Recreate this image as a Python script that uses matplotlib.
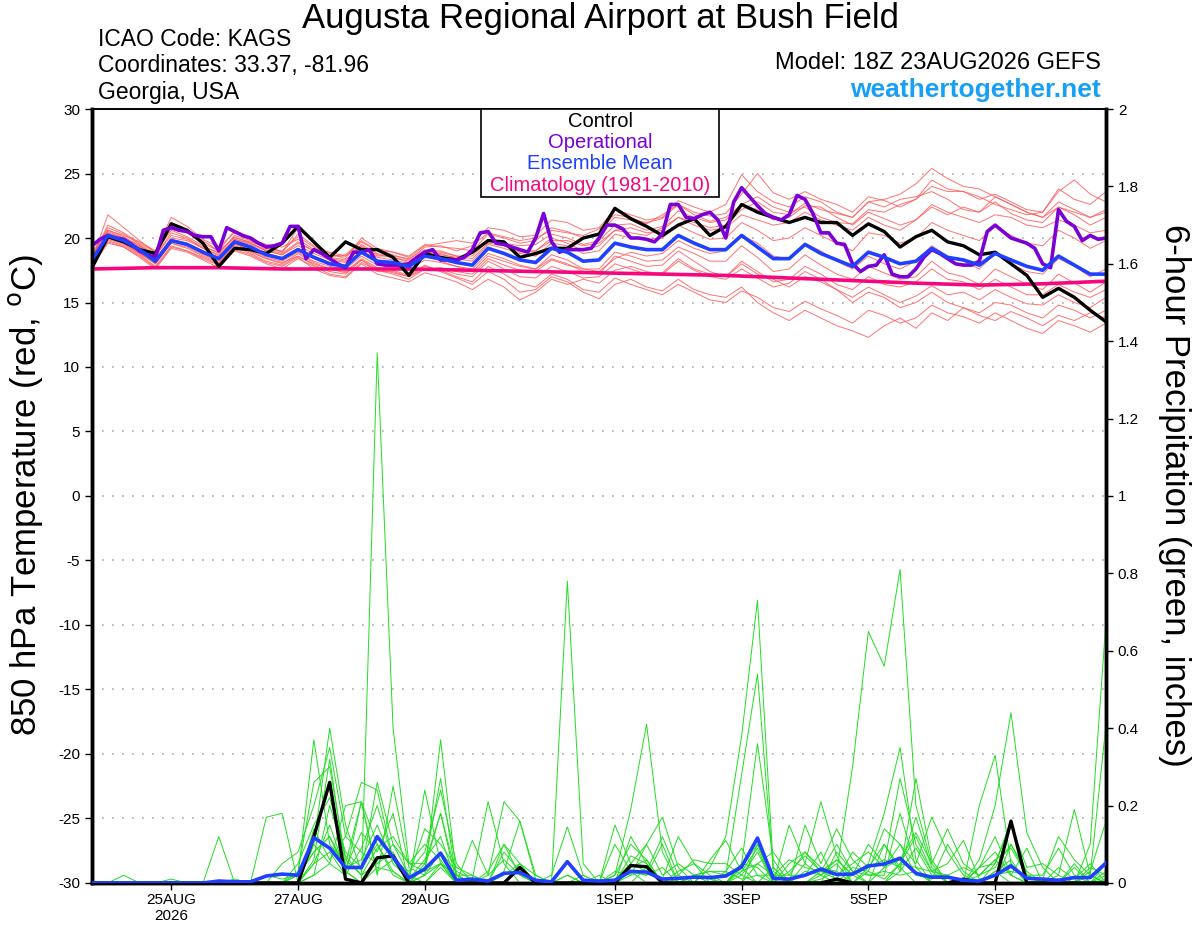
import numpy as np
import matplotlib
matplotlib.use('Agg')
import matplotlib.pyplot as plt
from matplotlib.patches import Rectangle
from matplotlib.ticker import FuncFormatter

plt.rcParams['font.family'] = ['Liberation Sans', 'DejaVu Sans']
plt.rcParams['axes.unicode_minus'] = False

# forecast hours from 18Z 23AUG2026, 6-hourly for GEFS, 3-hourly for the operational run
hours = np.arange(0, 385, 6)
op_hours = np.arange(0, 385, 3)
clim_hours = np.arange(0, 385, 24)

tick_hours = [30, 78, 126, 198, 246, 294, 342]
tick_labels = ['25AUG\n2026', '27AUG', '29AUG', '1SEP', '3SEP', '5SEP', '7SEP']

# 850 hPa temperature (C)
control_temp = [17.7, 20.1, 19.7, 19.1, 18.8, 21.1, 20.6, 19.6, 17.8, 19.2,
                19.1, 18.8, 19.6, 20.9, 19.7, 18.5, 19.7, 19.1, 19.1, 18.5,
                17.1, 18.8, 18.5, 18.3, 18.9, 19.8, 19.7, 18.5, 18.8, 19.2,
                19.2, 20.0, 20.3, 22.3, 21.5, 20.9, 20.2, 21.0, 21.5, 20.2,
                20.9, 22.6, 22.0, 21.6, 21.2, 21.6, 21.2, 21.2, 20.2, 21.1,
                20.5, 19.3, 20.1, 20.6, 19.7, 19.4, 18.7, 18.9, 18.0, 17.1,
                15.4, 16.1, 15.4, 14.4, 13.5]

mean_temp = [18.3, 20.2, 19.8, 19.1, 18.2, 19.8, 19.5, 18.9, 18.4, 19.7,
             19.3, 18.7, 18.4, 19.1, 18.5, 18.0, 17.8, 18.9, 18.2, 18.1,
             17.8, 18.6, 18.4, 18.1, 17.9, 19.2, 18.8, 18.3, 18.1, 19.2,
             18.9, 18.2, 18.3, 19.6, 19.3, 19.1, 19.1, 20.2, 19.6, 19.1,
             19.1, 20.2, 19.3, 18.4, 18.4, 19.5, 18.8, 18.3, 17.8, 18.9,
             18.5, 18.0, 18.2, 19.2, 18.5, 18.3, 17.9, 18.8, 18.3, 17.8,
             17.5, 18.6, 17.9, 17.2, 17.2]

op_temp = [19.4, 19.9, 20.2, 20.0, 19.9, 19.5, 19.0, 18.7, 18.5, 20.6,
           20.8, 20.6, 20.5, 20.2, 20.1, 20.1, 19.0, 20.8, 20.5, 20.2,
           20.0, 19.6, 19.3, 19.4, 19.6, 20.9, 20.9, 18.4, 19.1, 18.8,
           18.4, 18.0, 17.7, 18.9, 18.9, 19.1, 18.0, 17.9, 17.9, 17.9,
           18.0, 18.5, 18.9, 19.1, 18.3, 18.3, 18.3, 18.5, 19.1, 20.4,
           20.5, 19.6, 19.5, 19.3, 19.1, 18.9, 20.0, 21.9, 19.7, 18.9,
           19.1, 19.1, 19.1, 19.2, 20.0, 21.0, 21.0, 20.7, 20.0, 20.0,
           19.9, 19.7, 20.3, 22.6, 22.6, 21.6, 21.5, 21.8, 22.0, 21.4,
           20.0, 22.8, 23.9, 23.2, 22.5, 21.9, 21.6, 21.4, 21.8, 23.3,
           23.0, 21.9, 20.4, 20.4, 19.6, 19.5, 18.0, 17.4, 17.8, 17.9,
           18.7, 17.2, 17.0, 17.0, 17.6, 18.5, 19.1, 18.8, 18.4, 18.0,
           17.9, 17.9, 18.2, 20.5, 21.0, 20.5, 20.0, 19.8, 19.6, 19.2,
           18.0, 17.7, 22.2, 21.3, 20.9, 19.8, 20.2, 19.9, 20.0]

clim_temp = [17.6, 17.7, 17.7, 17.6, 17.6, 17.6, 17.5, 17.4, 17.3,
             17.2, 17.1, 16.9, 16.7, 16.5, 16.35, 16.45, 16.65]

member_temp = [
    [18.5, 21.0, 20.4, 19.6, 18.9, 20.6, 20.1, 19.4, 18.8, 20.2, 19.8, 19.2, 19.0, 20.1, 19.3,
     18.6, 18.7, 19.8, 19.0, 18.9, 18.6, 19.5, 19.3, 19.2, 19.0, 20.3, 20.0, 19.6, 19.8, 20.8,
     20.5, 20.0, 20.4, 21.6, 21.4, 21.2, 21.5, 22.6, 22.0, 21.7, 21.9, 23.4, 25.0, 23.5, 23.0,
     23.6, 23.0, 22.6, 22.0, 23.2, 22.9, 22.4, 23.0, 24.5, 23.8, 23.6, 23.0, 23.4, 22.8, 22.2,
     22.0, 23.8, 23.0, 22.6, 23.6],
    [18.2, 20.6, 20.1, 19.4, 18.6, 20.4, 20.0, 19.2, 18.6, 19.9, 19.6, 19.0, 18.7, 19.6, 19.0,
     18.4, 18.2, 19.5, 18.8, 18.5, 18.2, 19.0, 18.9, 18.6, 18.6, 19.8, 19.4, 19.0, 19.0, 20.0,
     19.6, 19.0, 19.4, 20.6, 20.8, 20.4, 20.6, 21.6, 21.2, 20.8, 21.0, 22.2, 22.8, 22.0, 21.8,
     22.7, 22.2, 21.9, 21.6, 22.8, 23.0, 23.4, 24.2, 25.4, 24.6, 24.0, 23.8, 23.2, 22.6, 22.0,
     21.6, 22.4, 22.0, 21.6, 22.2],
    [18.0, 19.8, 19.4, 18.7, 17.8, 19.4, 19.0, 18.5, 18.0, 19.3, 18.8, 18.2, 17.9, 18.6, 17.9,
     17.4, 17.2, 18.3, 17.6, 17.3, 17.0, 17.8, 17.5, 17.0, 16.6, 17.8, 17.2, 16.5, 16.2, 17.2,
     16.8, 16.0, 15.8, 16.9, 16.4, 16.0, 15.6, 16.4, 15.8, 15.2, 15.0, 15.9, 15.4, 14.6, 14.3,
     15.1, 14.5, 14.0, 13.4, 14.4, 14.0, 13.4, 13.8, 14.8, 14.2, 13.9, 13.4, 14.2, 13.6, 13.0,
     12.6, 13.6, 13.2, 12.7, 13.4],
    [18.1, 20.0, 19.6, 18.8, 18.0, 19.6, 19.2, 18.6, 18.1, 19.4, 18.9, 18.4, 18.0, 18.8, 18.1,
     17.6, 17.4, 18.4, 17.7, 17.5, 17.1, 17.9, 17.4, 16.9, 16.4, 17.4, 16.8, 15.8, 16.0, 17.0,
     16.6, 15.8, 15.3, 16.4, 16.8, 16.2, 15.9, 16.8, 16.0, 15.6, 15.4, 16.2, 15.0, 14.2, 13.6,
     14.4, 13.8, 13.2, 12.8, 12.3, 13.2, 13.8, 13.0, 14.2, 13.6, 14.6, 14.0, 13.6, 14.3, 13.8,
     13.2, 14.0, 13.6, 14.2, 13.8],
    [18.6, 20.4, 20.0, 19.3, 18.4, 20.0, 19.8, 19.2, 18.7, 19.9, 19.5, 19.0, 18.7, 19.4, 18.8,
     18.3, 18.1, 19.2, 18.5, 18.3, 18.0, 18.9, 18.8, 18.4, 18.2, 19.5, 19.2, 18.8, 18.6, 19.6,
     19.4, 18.8, 19.0, 20.3, 20.0, 19.9, 20.0, 21.0, 20.4, 19.9, 20.0, 21.2, 20.6, 19.8, 20.0,
     20.8, 20.2, 19.6, 19.0, 20.4, 20.2, 19.6, 20.0, 21.2, 20.6, 20.2, 19.8, 20.9, 20.2, 19.6,
     19.4, 20.6, 20.0, 19.2, 19.8],
    [18.4, 20.0, 19.6, 18.9, 18.0, 19.6, 19.3, 18.7, 18.2, 19.5, 19.1, 18.5, 18.2, 18.9, 18.2,
     17.8, 17.6, 18.6, 17.9, 17.8, 17.5, 18.3, 18.1, 17.8, 17.6, 18.8, 18.4, 17.9, 17.6, 18.7,
     18.3, 17.6, 17.6, 18.9, 18.6, 18.2, 18.3, 19.3, 18.8, 18.2, 18.2, 19.4, 18.5, 17.4, 17.6,
     18.7, 17.9, 17.2, 16.8, 17.8, 17.3, 16.8, 17.0, 18.2, 17.3, 17.0, 16.4, 17.6, 17.0, 16.4,
     16.0, 17.2, 16.5, 15.8, 16.6],
    [18.3, 21.8, 20.8, 19.8, 18.9, 21.2, 20.6, 19.8, 19.0, 20.6, 20.0, 19.4, 18.9, 20.8, 19.6,
     18.8, 18.4, 20.0, 19.2, 18.9, 18.5, 19.4, 19.6, 19.8, 19.6, 20.8, 20.6, 20.1, 20.2, 21.4,
     21.2, 20.6, 20.8, 22.2, 21.8, 21.4, 21.6, 22.9, 22.4, 22.0, 22.6, 24.9, 23.6, 22.8, 22.4,
     23.2, 22.8, 22.0, 21.6, 22.8, 22.4, 23.0, 23.2, 23.6, 23.0, 22.2, 22.0, 22.8, 21.9, 21.4,
     21.2, 22.4, 21.8, 21.0, 21.6],
    [17.8, 19.6, 19.3, 18.6, 17.7, 19.3, 19.0, 18.4, 17.9, 19.1, 18.7, 18.1, 17.8, 18.5, 17.6,
     17.1, 16.9, 18.0, 17.2, 16.9, 16.6, 17.3, 17.0, 16.6, 16.0, 16.8, 16.2, 15.2, 15.8, 16.8,
     16.4, 16.8, 16.5, 17.5, 17.8, 17.4, 17.2, 18.2, 17.5, 17.0, 16.8, 17.6, 16.9, 16.2, 16.5,
     17.4, 16.8, 16.0, 15.4, 16.2, 15.6, 15.0, 15.5, 16.3, 15.6, 15.8, 15.2, 16.0, 15.4, 14.9,
     14.8, 15.6, 15.0, 14.6, 15.4],
    [18.9, 20.6, 20.2, 19.7, 19.0, 21.6, 20.9, 19.9, 19.3, 20.4, 19.9, 19.5, 19.3, 19.9, 19.1,
     18.9, 18.6, 19.4, 18.6, 18.6, 18.4, 19.1, 18.7, 18.5, 18.8, 19.9, 19.6, 19.4, 19.5, 20.3,
     20.0, 19.5, 19.8, 21.0, 21.1, 20.6, 20.9, 22.1, 21.6, 21.2, 21.4, 22.6, 23.2, 22.4, 22.0,
     22.4, 21.6, 21.2, 21.1, 22.2, 22.0, 22.6, 23.0, 24.0, 23.6, 23.6, 23.2, 22.6, 22.2, 21.8,
     22.0, 23.6, 24.5, 23.4, 22.8],
    [18.2, 19.9, 19.5, 18.8, 18.1, 19.7, 19.5, 18.8, 18.3, 19.6, 19.0, 18.4, 18.1, 18.6, 18.0,
     17.6, 17.3, 18.3, 17.4, 17.4, 17.0, 17.6, 17.6, 17.2, 17.0, 18.2, 17.6, 17.0, 16.9, 17.8,
     17.4, 16.9, 17.0, 18.0, 17.6, 17.2, 17.3, 18.4, 17.6, 17.2, 17.0, 18.2, 17.4, 16.6, 16.8,
     17.8, 17.2, 16.4, 16.0, 17.0, 16.4, 16.2, 16.6, 17.6, 16.8, 16.6, 16.0, 16.8, 16.2, 15.6,
     15.6, 16.4, 15.8, 15.4, 16.0],
    [18.6, 20.8, 20.3, 19.5, 18.7, 20.8, 20.4, 19.6, 19.0, 20.0, 19.7, 19.3, 18.9, 20.3, 19.4,
     18.6, 18.6, 19.7, 19.0, 18.7, 18.3, 19.3, 19.4, 19.0, 19.4, 20.4, 20.1, 19.8, 20.0, 20.6,
     20.4, 20.2, 20.7, 21.8, 21.6, 21.1, 21.8, 22.6, 21.8, 21.3, 21.6, 22.6, 22.2, 21.4, 21.6,
     22.5, 22.4, 21.6, 21.0, 22.0, 21.5, 21.0, 21.4, 22.6, 22.0, 21.6, 21.2, 21.8, 21.6, 21.0,
     20.8, 21.4, 21.0, 20.4, 20.6],
    [18.5, 20.3, 19.9, 19.2, 18.3, 19.9, 19.6, 19.0, 18.5, 19.8, 19.4, 18.8, 18.5, 19.2, 18.6,
     18.1, 17.9, 19.0, 18.3, 18.0, 17.7, 18.6, 18.2, 17.8, 17.4, 18.6, 18.2, 17.8, 17.6, 18.4,
     18.0, 17.4, 17.2, 18.6, 18.2, 17.8, 17.9, 19.0, 18.2, 17.4, 17.0, 18.0, 17.2, 16.8, 16.2,
     17.0, 16.6, 16.0, 15.0, 15.8, 15.4, 14.6, 15.0, 15.8, 15.0, 14.6, 14.2, 15.0, 14.8, 14.2,
     13.8, 14.8, 14.4, 13.8, 14.4],
    [18.7, 20.5, 20.0, 19.4, 18.6, 20.2, 19.9, 19.3, 18.9, 20.1, 19.6, 19.1, 18.8, 19.7, 19.0,
     18.5, 18.3, 19.3, 18.7, 18.5, 18.1, 19.0, 19.0, 18.6, 18.4, 19.6, 19.4, 18.9, 19.0, 19.8,
     19.8, 19.4, 19.6, 20.6, 20.4, 20.2, 20.8, 21.6, 21.0, 20.6, 20.8, 21.8, 21.4, 21.0, 21.2,
     22.0, 21.4, 21.0, 20.6, 21.6, 21.0, 20.6, 21.4, 22.4, 21.8, 22.4, 22.0, 23.2, 22.6, 22.0,
     21.6, 22.8, 22.2, 21.6, 22.0],
    [18.0, 19.7, 19.3, 18.5, 17.6, 19.2, 18.9, 18.3, 17.7, 19.0, 18.6, 18.0, 17.6, 18.4, 17.8,
     17.2, 17.0, 18.1, 17.5, 17.2, 16.8, 17.6, 17.7, 17.4, 17.2, 18.4, 17.9, 17.5, 17.4, 18.3,
     17.9, 17.6, 17.4, 18.4, 18.9, 18.6, 18.8, 19.8, 19.2, 18.8, 19.0, 20.2, 19.6, 18.6, 18.4,
     19.6, 19.0, 18.2, 17.6, 18.6, 18.0, 17.6, 18.2, 19.4, 18.6, 18.2, 17.6, 18.8, 18.0, 17.4,
     17.2, 18.4, 17.8, 17.0, 17.6],
]

# 6-hour precipitation (inches)
control_precip = [0, 0, 0, 0, 0, 0, 0, 0, 0, 0, 0, 0, 0, 0, 0.12,
                  0.26, 0.01, 0, 0.065, 0.07, 0, 0, 0, 0, 0, 0, 0, 0.04, 0, 0,
                  0, 0, 0, 0, 0.045, 0.042, 0, 0, 0, 0, 0, 0, 0, 0, 0,
                  0, 0, 0.01, 0, 0, 0, 0, 0, 0, 0, 0.01, 0, 0, 0.16, 0,
                  0, 0, 0, 0, 0]

mean_precip = [0, 0, 0, 0, 0, 0, 0, 0, 0.005, 0.003, 0.003, 0.018, 0.023, 0.02, 0.117,
               0.09, 0.04, 0.04, 0.12, 0.067, 0.013, 0.036, 0.077, 0.007, 0.01,
               0.005, 0.025, 0.027, 0.007, 0.003, 0.055, 0.007, 0.005, 0.007, 0.03,
               0.028, 0.01, 0.012, 0.015, 0.014, 0.018, 0.042, 0.116, 0.012, 0.01,
               0.02, 0.036, 0.022, 0.023, 0.044, 0.049, 0.064, 0.025, 0.015, 0.015,
               0.007, 0.005, 0.02, 0.044, 0.012, 0.01, 0.007, 0.014, 0.014, 0.052]

member_precip = [
    [0, 0, 0, 0, 0, 0, 0, 0, 0, 0, 0, 0, 0, 0.02, 0.08, 0.12, 0.03, 0, 1.37, 0.40,
     0.05, 0.10, 0.06, 0, 0, 0, 0.02, 0.05, 0, 0, 0, 0, 0, 0, 0.04, 0.06, 0, 0, 0, 0,
     0, 0.02, 0.08, 0, 0, 0, 0.03, 0.06, 0.02, 0, 0.1, 0.04, 0, 0, 0, 0, 0, 0.02, 0.05, 0,
     0, 0, 0, 0, 0],
    [0, 0, 0, 0, 0, 0, 0, 0, 0, 0, 0, 0, 0, 0.05, 0.15, 0.22, 0.08, 0.04, 0.10, 0.03,
     0, 0.04, 0.18, 0.02, 0, 0, 0.08, 0.03, 0, 0, 0.78, 0.05, 0, 0.02, 0.10, 0.06, 0, 0, 0.02, 0,
     0, 0.05, 0.04, 0, 0, 0, 0, 0.08, 0.03, 0, 0, 0.05, 0.12, 0.03, 0, 0, 0.04, 0.08, 0.02, 0,
     0, 0, 0, 0, 0.03],
    [0, 0, 0, 0, 0, 0, 0, 0, 0, 0, 0, 0, 0, 0.02, 0.37, 0.10, 0.05, 0.21, 0.03, 0.06,
     0, 0.02, 0.05, 0, 0, 0.03, 0.1, 0.02, 0, 0, 0, 0, 0, 0.15, 0.05, 0.03, 0, 0.01, 0, 0.04,
     0.12, 0.38, 0.73, 0.04, 0, 0, 0.02, 0.05, 0, 0, 0, 0.03, 0.27, 0.06, 0, 0, 0.02, 0.04, 0.1, 0.02,
     0, 0, 0, 0.02, 0],
    [0, 0, 0, 0, 0, 0, 0, 0, 0, 0, 0, 0, 0, 0, 0.1, 0.40, 0.15, 0.03, 0.26, 0.1,
     0.02, 0, 0.05, 0.02, 0, 0, 0, 0.05, 0.02, 0, 0, 0, 0, 0, 0.02, 0.1, 0.17, 0.04, 0, 0,
     0, 0, 0.05, 0.02, 0, 0, 0.01, 0.03, 0.3, 0.65, 0.56, 0.81, 0.2, 0.05, 0, 0, 0, 0.03, 0.06, 0,
     0, 0.02, 0, 0, 0],
    [0, 0, 0, 0, 0, 0, 0, 0, 0, 0, 0, 0, 0, 0, 0.05, 0.08, 0.02, 0.21, 0.02, 0.25,
     0.04, 0.02, 0.37, 0.02, 0, 0, 0, 0, 0, 0, 0, 0, 0, 0, 0, 0.04, 0.01, 0.12, 0.05, 0,
     0, 0.05, 0.36, 0.06, 0, 0, 0, 0, 0.02, 0.05, 0.18, 0.35, 0.06, 0, 0, 0, 0.06, 0.2, 0.44, 0.13,
     0.04, 0, 0, 0.1, 0.68],
    [0, 0, 0, 0, 0, 0, 0, 0, 0, 0, 0, 0, 0, 0.03, 0.26, 0.3, 0.06, 0.02, 0.05, 0.08,
     0, 0.24, 0.05, 0, 0.11, 0.02, 0.21, 0.16, 0.02, 0, 0.02, 0, 0, 0.02, 0.19, 0.41, 0.08, 0, 0, 0,
     0, 0.04, 0.1, 0, 0, 0.05, 0.21, 0.07, 0, 0, 0.04, 0.1, 0.05, 0.17, 0.08, 0.02, 0, 0.03, 0, 0,
     0, 0, 0.05, 0, 0],
    [0, 0, 0.02, 0, 0, 0.01, 0, 0, 0, 0, 0, 0, 0, 0, 0.05, 0.15, 0.03, 0, 0.04, 0.03,
     0, 0.05, 0.27, 0.01, 0, 0, 0, 0, 0, 0.02, 0.145, 0.02, 0, 0, 0, 0, 0, 0.02, 0.06, 0.05,
     0.05, 0.02, 0, 0, 0.15, 0.05, 0.02, 0, 0, 0.03, 0.01, 0.05, 0.04, 0, 0, 0, 0.2, 0.33, 0.05, 0,
     0, 0, 0, 0.04, 0.02],
    [0, 0, 0, 0, 0, 0, 0, 0, 0.12, 0, 0, 0.17, 0.18, 0, 0.1, 0.05, 0.2, 0.21, 0.1, 0.02,
     0, 0, 0.04, 0, 0, 0, 0, 0, 0, 0, 0, 0, 0, 0.1, 0.03, 0, 0, 0.03, 0.05, 0.02,
     0, 0.04, 0, 0.04, 0, 0.15, 0.05, 0.14, 0.06, 0.02, 0.03, 0.02, 0.03, 0, 0, 0, 0, 0, 0.1, 0.03,
     0, 0, 0, 0, 0.01],
    [0, 0, 0, 0, 0, 0, 0, 0, 0, 0, 0, 0, 0.05, 0.08, 0.2, 0.35, 0.12, 0.08, 0.05, 0.1,
     0.05, 0.05, 0.18, 0, 0, 0.02, 0.06, 0.02, 0, 0, 0, 0.02, 0, 0.01, 0.05, 0.1, 0.02, 0.05, 0.02, 0.03,
     0.02, 0.28, 0.54, 0.03, 0, 0.03, 0.02, 0.06, 0.02, 0.1, 0.05, 0.27, 0.1, 0.03, 0.02, 0, 0.04, 0.12, 0.02, 0,
     0.01, 0.12, 0.06, 0.02, 0.41],
    [0, 0, 0, 0, 0, 0, 0, 0, 0, 0, 0, 0, 0, 0, 0.14, 0.06, 0.12, 0.26, 0.24, 0.06,
     0.02, 0.14, 0.1, 0.04, 0.02, 0, 0, 0.04, 0, 0, 0, 0, 0, 0, 0.07, 0.05, 0, 0, 0, 0.06,
     0.11, 0.03, 0.05, 0.08, 0.02, 0.02, 0.08, 0, 0.04, 0.03, 0.14, 0.1, 0.02, 0.01, 0.1, 0.03, 0, 0.05, 0.15, 0.04,
     0.05, 0.02, 0.19, 0.02, 0],
    [0, 0, 0, 0, 0, 0, 0, 0, 0, 0, 0, 0, 0, 0, 0.06, 0.32, 0.04, 0.13, 0.08, 0.18,
     0, 0.02, 0.08, 0.03, 0.01, 0.21, 0.05, 0, 0, 0, 0, 0, 0.02, 0, 0.03, 0.02, 0.1, 0, 0.02, 0.03,
     0.03, 0.01, 0.02, 0.02, 0.06, 0.04, 0.03, 0.02, 0.05, 0.08, 0.04, 0.06, 0.13, 0.05, 0.14, 0.05, 0.02, 0.06, 0.02, 0.09,
     0, 0, 0.04, 0, 0.05],
    [0, 0, 0, 0, 0, 0, 0, 0, 0, 0.01, 0, 0.02, 0.01, 0.02, 0.08, 0.12, 0.04, 0.06, 0.15, 0.05,
     0.01, 0.06, 0.12, 0, 0, 0, 0.03, 0.16, 0.01, 0, 0, 0, 0, 0, 0.03, 0.02, 0.04, 0, 0.02, 0.01,
     0, 0.03, 0.09, 0, 0.05, 0.08, 0.03, 0.1, 0.03, 0.02, 0.02, 0.18, 0.04, 0.03, 0.05, 0.11, 0.01, 0.02, 0.03, 0.02,
     0.02, 0.09, 0.02, 0, 0.02],
    [0, 0, 0, 0, 0, 0, 0, 0, 0, 0, 0, 0, 0, 0, 0.02, 0.2, 0.07, 0.02, 0.09, 0.12,
     0.05, 0.03, 0.05, 0.02, 0.02, 0, 0.1, 0.05, 0, 0, 0.02, 0, 0, 0.03, 0.02, 0.03, 0.12, 0.02, 0, 0,
     0.03, 0.09, 0.02, 0, 0.03, 0.07, 0.03, 0.01, 0.08, 0.04, 0.1, 0.03, 0.09, 0.02, 0.02, 0.04, 0.02, 0.06, 0.09, 0.02,
     0, 0.04, 0.01, 0.05, 0],
    [0, 0, 0, 0, 0, 0, 0, 0, 0, 0, 0, 0, 0, 0, 0.02, 0.05, 0.02, 0.09, 0.2, 0.06,
     0.03, 0.08, 0.24, 0.05, 0, 0, 0, 0, 0, 0, 0, 0, 0, 0, 0.12, 0.05, 0, 0, 0, 0,
     0, 0, 0.1, 0.02, 0.02, 0.08, 0.04, 0.03, 0, 0.04, 0.06, 0.04, 0.17, 0.04, 0, 0, 0.04, 0.05, 0.16, 0.02,
     0, 0, 0, 0.03, 0.16],
]

RED = '#ff5a5a'
GREEN = '#22dd22'
PURPLE = '#7a00d6'
BLUE = '#2040ff'
PINK = '#f5087e'

fig = plt.figure(figsize=(12, 9.27), dpi=100)
ax = fig.add_axes([0.0767, 0.0475, 0.845, 0.8349])
ax2 = ax.twinx()

# temperature, left axis
for m in member_temp:
    ax.plot(hours, m, color=RED, lw=0.7, alpha=0.85, zorder=2)
ax.plot(clim_hours, clim_temp, color=PINK, lw=2.6, zorder=3)
ax.plot(hours, control_temp, color='black', lw=2.4, zorder=4)
ax.plot(op_hours, op_temp, color=PURPLE, lw=2.6, zorder=5)
ax.plot(hours, mean_temp, color=BLUE, lw=2.6, zorder=6)

# precipitation, right axis
for m in member_precip:
    ax2.plot(hours, m, color=GREEN, lw=0.7, zorder=2)
ax2.plot(hours, control_precip, color='black', lw=2.4, zorder=4)
ax2.plot(hours, mean_precip, color=BLUE, lw=2.6, zorder=5)

ax.set_xlim(0, 384)
ax.set_ylim(-30, 30)
ax2.set_ylim(0, 2)
ax.set_yticks(np.arange(-30, 31, 5))
ax2.set_yticks(np.arange(0, 2.01, 0.2))
ax2.yaxis.set_major_formatter(FuncFormatter(lambda v, p: ('%.1f' % v).rstrip('0').rstrip('.')))
ax.set_xticks(tick_hours)
ax.set_xticklabels(tick_labels)

for y in np.arange(-25, 30, 5):
    ax.axhline(y, color='#aaaaaa', lw=1.2, ls=(0, (1, 5)), zorder=1)

ax.tick_params(axis='y', labelsize=11, length=5, width=1, direction='out')
ax.tick_params(axis='x', labelsize=11, length=5, width=1, direction='out', pad=2)
ax2.tick_params(axis='y', labelsize=11, length=5, width=1, direction='out')

for a in (ax, ax2):
    a.spines['left'].set_linewidth(2.5)
    a.spines['right'].set_linewidth(2.5)
    a.spines['bottom'].set_linewidth(2.5)
    a.spines['top'].set_linewidth(1.2)

fig.text(0.021, 0.466, r'850 hPa Temperature (red, $^{\mathrm{o}}$C)', rotation=90,
         ha='center', va='center', fontsize=25)
fig.text(0.979, 0.466, '6-hour Precipitation (green, inches)', rotation=270,
         ha='center', va='center', fontsize=25)

fig.text(0.5, 0.980, 'Augusta Regional Airport at Bush Field', ha='center', va='center', fontsize=25)
fig.text(0.082, 0.957, 'ICAO Code: KAGS', ha='left', va='center', fontsize=16.5)
fig.text(0.082, 0.929, 'Coordinates: 33.37, -81.96', ha='left', va='center', fontsize=16.5)
fig.text(0.082, 0.900, 'Georgia, USA', ha='left', va='center', fontsize=16.5)
fig.text(0.9175, 0.932, 'Model: 18Z 23AUG2026 GEFS', ha='right', va='center', fontsize=17)
fig.text(0.9175, 0.903, 'weathertogether.net', ha='right', va='center', fontsize=19,
         fontweight='bold', color='#18a0f5')

# legend box at the top of the plot
ax2.add_patch(Rectangle((0.3836, 0.8863), 0.2347, 0.1137, transform=ax2.transAxes,
                        facecolor='white', edgecolor='black', lw=1.2, zorder=10, clip_on=False))
leg_items = [('Control', 'black'), ('Operational', PURPLE),
             ('Ensemble Mean', BLUE), ('Climatology (1981-2010)', PINK)]
for k, (name, col) in enumerate(leg_items):
    ax2.text(0.501, 0.9845 - k * 0.0276, name, transform=ax2.transAxes, ha='center', va='center',
             fontsize=14.5, color=col, zorder=11)

fig.savefig('out.png', dpi=100)
